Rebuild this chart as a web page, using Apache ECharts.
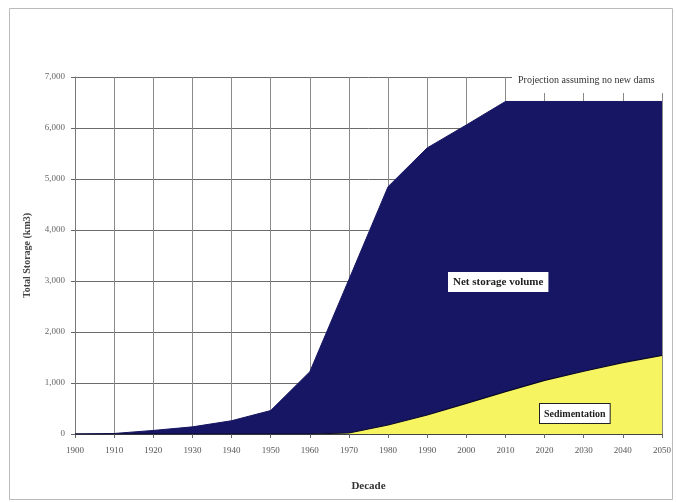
<!DOCTYPE html>
<html>
<head>
<meta charset="utf-8">
<script src="https://cdn.jsdelivr.net/npm/echarts@6/dist/echarts.min.js"></script>
<style>
html,body{margin:0;padding:0;background:#fff;}
#chart{width:676px;height:502px;}
</style>
</head>
<body>
<div id="chart"></div>
<script>
var years = [1900,1910,1920,1930,1940,1950,1960,1970,1980,1990,2000,2010,2020,2030,2040,2050];
var totalStorage = [0,10,70,140,260,460,1220,3030,4850,5610,6060,6520,6520,6520,6520,6520];
var sedimentation = [0,0,0,0,0,0,0,20,176,372,600,830,1050,1230,1400,1540];
var yTickLabels = ['0','1,000','2,000','3,000','4,000','5,000','6,000','7,000'];

var serif = '"Liberation Serif","DejaVu Serif",serif';
function pairs(vals){ return years.map(function(y,i){ return [y, vals[i]]; }); }

var chart = echarts.init(document.getElementById('chart'));
chart.setOption({
  backgroundColor:'#fff',
  animation:false,
  grid:{left:75,right:14,top:77,bottom:68},
  xAxis:{
    type:'value', min:1900, max:2050, interval:10,
    name:'Decade', nameLocation:'middle', nameGap:47,
    nameTextStyle:{fontFamily:serif,fontWeight:'bold',fontSize:11,color:'#333'},
    axisLine:{lineStyle:{color:'#444',width:1}},
    axisTick:{show:true,length:4,lineStyle:{color:'#666'}},
    axisLabel:{fontFamily:serif,fontSize:9,color:'#555',margin:12,formatter:function(v){return String(v);}},
    splitLine:{show:true,lineStyle:{color:'#8a8a8a',width:1}}
  },
  yAxis:{
    type:'value', min:0, max:7000, interval:1000,
    name:'Total Storage (km3)', nameLocation:'middle', nameGap:43,
    nameTextStyle:{fontFamily:serif,fontWeight:'bold',fontSize:10,color:'#444'},
    axisLine:{show:true,lineStyle:{color:'#777',width:1}},
    axisTick:{show:true,length:4,lineStyle:{color:'#666'}},
    axisLabel:{fontFamily:serif,fontSize:9,color:'#666',margin:10,formatter:function(v){return yTickLabels[Math.round(v/1000)];}},
    splitLine:{show:true,lineStyle:{color:'#6a6a6a',width:1}}
  },
  series:[
    {name:'Net storage volume',type:'line',data:pairs(totalStorage),symbol:'none',
     lineStyle:{color:'#161664',width:1},areaStyle:{color:'#161664',opacity:1}},
    {name:'Sedimentation',type:'line',data:pairs(sedimentation),symbol:'none',
     lineStyle:{color:'#0a0a28',width:1.2},areaStyle:{color:'#f7f462',opacity:1}}
  ],
  graphic:[
    {type:'rect',left:7,top:6,shape:{width:663,height:491},style:{fill:'none',stroke:'#bbb',lineWidth:1},z:-1},
    {type:'rect',left:512,top:66,shape:{width:158,height:27},style:{fill:'#fff'},z:50},
    {type:'text',left:518,top:75,style:{text:'Projection assuming no new dams',font:'10px '+serif,fill:'#333'},z:51},
    {type:'text',left:448,top:272,style:{text:'Net storage volume',font:'bold 11px '+serif,fill:'#222',backgroundColor:'#fff',padding:[5,5,4,5]},z:51},
    {type:'text',left:539,top:403,style:{text:'Sedimentation',font:'bold 10px '+serif,fill:'#222',backgroundColor:'#fff',borderColor:'#222',borderWidth:1,padding:[5,4,4,4]},z:51}
  ]
});
</script>
</body>
</html>
